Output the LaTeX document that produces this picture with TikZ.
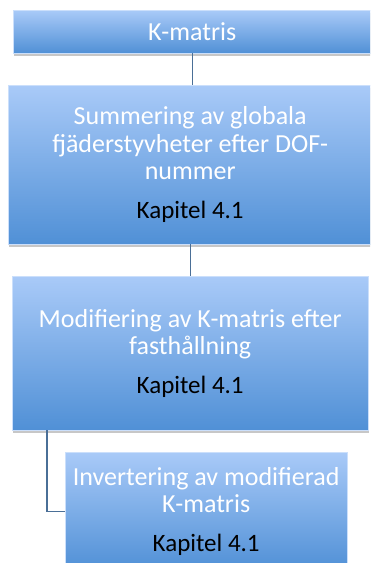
\documentclass[tikz,border=0pt]{standalone}
\usepackage{fontspec}
\setmainfont{Carlito}
\usetikzlibrary{shadows,calc}
\definecolor{boxtop}{HTML}{A9CAF8}
\definecolor{boxbot}{HTML}{5090D6}
\definecolor{linkcol}{HTML}{4A6F97}
\tikzset{
  stepbox/.style={rectangle, anchor=north west, inner sep=0pt,
    top color=boxtop, bottom color=boxbot, draw=boxtop!60!white, line width=0.4pt,
    drop shadow={shadow xshift=1pt, shadow yshift=-2.5pt, opacity=0.22, fill=black},
    align=center, text=white, font=\fontsize{26}{27.5}\selectfont},
  link/.style={draw=linkcol, line width=1.4pt}
}
\newcommand{\kapitel}{\\[11pt]{\color{black}\fontsize{25}{27}\selectfont Kapitel 4.1}}
\begin{document}
\begin{tikzpicture}[x=1pt,y=-1pt]
  \useasboundingbox (0,0) rectangle (370,563);
  \clip (0,0) rectangle (370,563);
  \fill[white] (0,0) rectangle (370,563);

  % the four process steps
  \node[stepbox, minimum width=358pt, minimum height=43pt] (b1) at (13,10) {K-matris};
  \node[stepbox, minimum width=364pt, minimum height=159pt] (b2) at (8,85)
    {Summering av globala\\fjäderstyvheter efter DOF-\\nummer\kapitel};
  \node[stepbox, minimum width=356pt, minimum height=154pt] (b3) at (12,276)
    {Modifiering av K-matris efter\\fasthållning\kapitel};
  \node[stepbox, minimum width=282pt, minimum height=118pt] (b4) at (65,452)
    {Invertering av modifierad\\K-matris\kapitel};

  % connectors between the steps
  \draw[link] (b1.south) -- (b1.south |- b2.north);
  \draw[link] (b2.south) -- (b2.south |- b3.north);
  \coordinate (drop) at ($(b3.south west)+(35,0)$);
  \draw[link] (drop) |- (b4.west);
\end{tikzpicture}
\end{document}
